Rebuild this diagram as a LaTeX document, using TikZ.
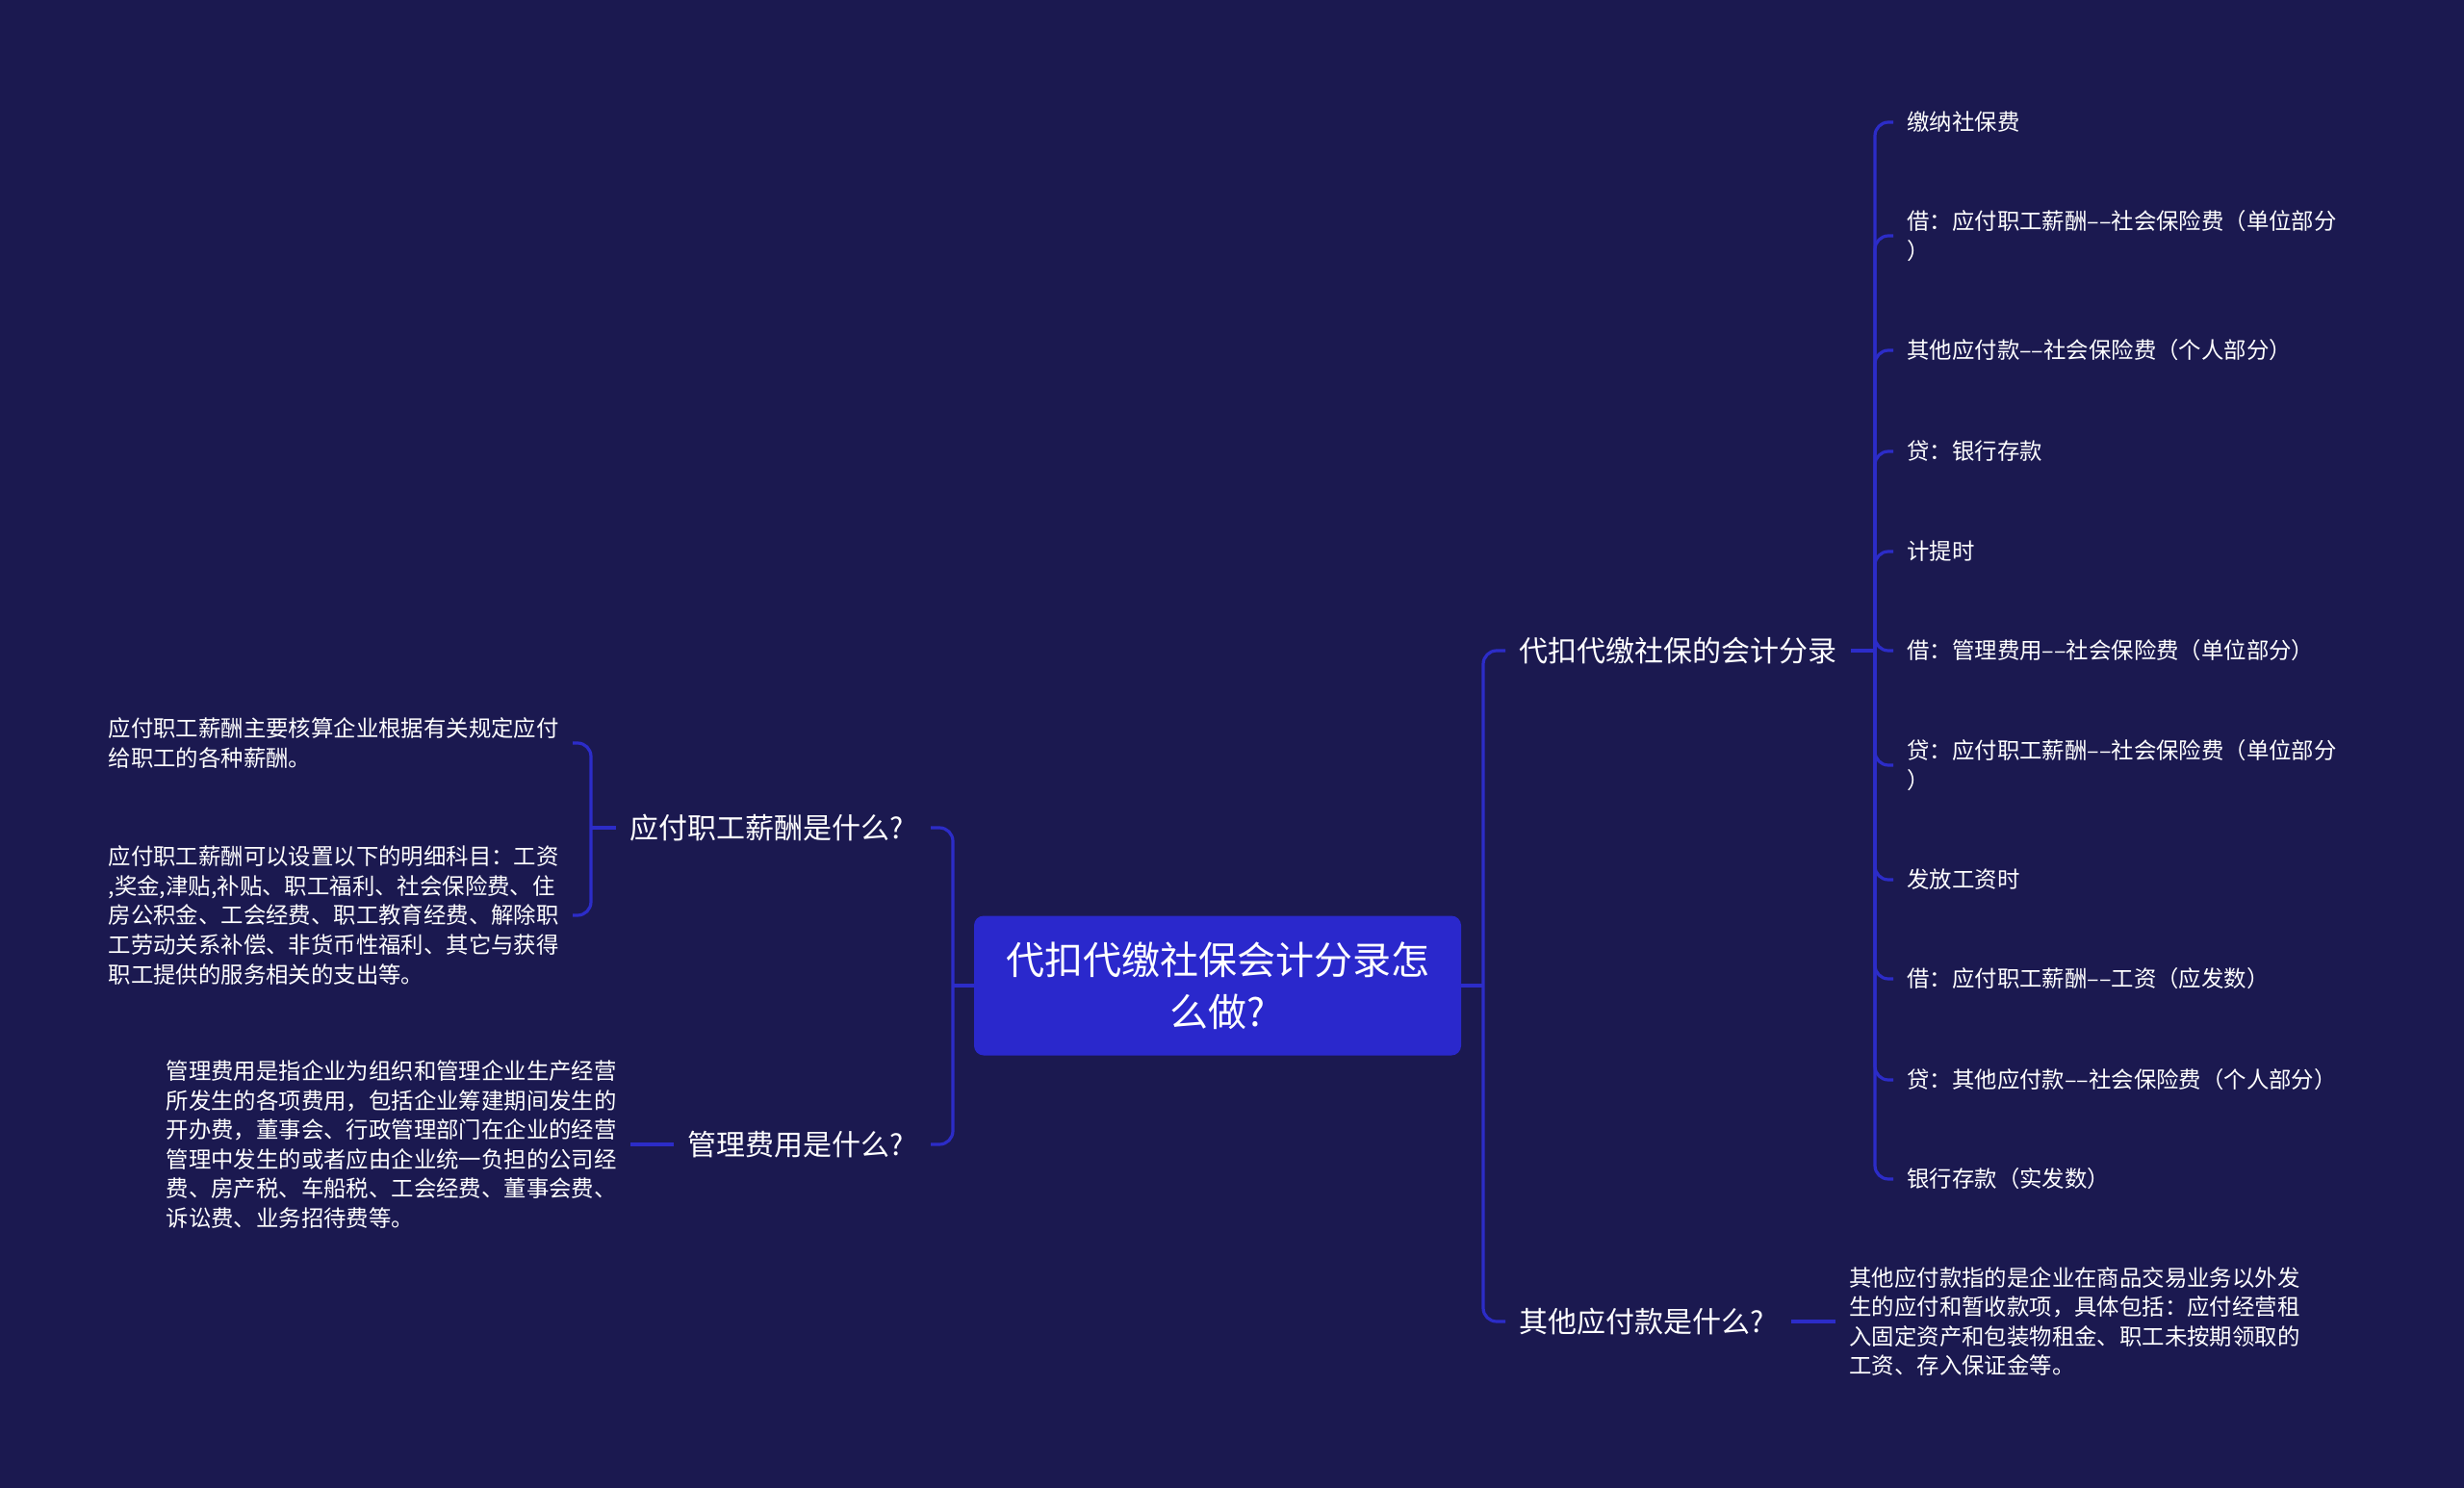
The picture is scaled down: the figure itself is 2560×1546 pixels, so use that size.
\documentclass[tikz,border=0pt]{standalone}
\usepackage{fontspec}
\setmainfont{Noto Sans CJK SC}
\usepackage{xcolor}
\definecolor{bgnavy}{RGB}{27,25,80}
\definecolor{linkblue}{RGB}{44,44,200}
\definecolor{rootblue}{RGB}{42,40,204}
\tikzset{
  link/.style={draw=linkblue,line width=1.6pt,rounded corners=7pt},
  root/.style={fill=rootblue,rounded corners=5pt,text=white,align=center,
    minimum width=253pt,minimum height=72.5pt,font=\fontsize{20}{27}\selectfont},
  branch/.style={text=white,inner xsep=7pt,font=\fontsize{15}{18}\selectfont},
  leaf/.style={text=white,align=left,inner xsep=7pt,inner ysep=2pt,
    font=\fontsize{11.7}{15.3}\selectfont},
}

\begin{document}
\begin{tikzpicture}[x=0.5pt,y=-0.5pt]
        \fill[bgnavy] (0,0) rectangle (2560,1546);
        % centre and main branches
        \node[root] (ctr) at (1265,1024) {代扣代缴社保会计分录怎\\么做?};
        \coordinate (lbus) at (990,1024);
        \coordinate (rmain) at (1541,1024);
        \node[branch,anchor=east] (l1) at (953,860) {应付职工薪酬是什么?};
        \node[branch,anchor=east] (l2) at (953,1189) {管理费用是什么?};
        \node[branch,anchor=west] (r1) at (1564,676) {代扣代缴社保的会计分录};
        \node[branch,anchor=west] (r2) at (1564,1373) {其他应付款是什么?};
        \draw[link] (ctr.west) -- (lbus);
        \draw[link] (lbus) |- ([xshift=7pt]l1.east);
        \draw[link] (lbus) |- ([xshift=7pt]l2.east);
        \draw[link] (ctr.east) -- (rmain);
        \draw[link] (rmain) |- (r1.west);
        \draw[link] (rmain) |- (r2.west);
        % left leaves
        \node[leaf,anchor=east] (l1a) at (595,772) {应付职工薪酬主要核算企业根据有关规定应付\\给职工的各种薪酬。};
        \node[leaf,anchor=east] (l1b) at (595,951) {应付职工薪酬可以设置以下的明细科目：工资\\,奖金,津贴,补贴、职工福利、社会保险费、住\\房公积金、工会经费、职工教育经费、解除职\\工劳动关系补偿、非货币性福利、其它与获得\\职工提供的服务相关的支出等。};
        \coordinate (l1bus) at (614,860);
        \draw[link] (l1.west) -- (l1bus);
        \draw[link] (l1bus) |- (l1a.east);
        \draw[link] (l1bus) |- (l1b.east);
        \node[leaf,anchor=east] (l2a) at (655,1189) {管理费用是指企业为组织和管理企业生产经营\\所发生的各项费用，包括企业筹建期间发生的\\开办费，董事会、行政管理部门在企业的经营\\管理中发生的或者应由企业统一负担的公司经\\费、房产税、车船税、工会经费、董事会费、\\诉讼费、业务招待费等。};
        \draw[link] (l2.west) -- (l2a.east);
        % right leaves
        \coordinate (rbus) at (1948,676);
        \draw[link] (r1.east) -- (rbus);
        \foreach \n/\y/\t in {
            a/127/{缴纳社保费},
            b/245/{借：应付职工薪酬––社会保险费（单位部分\\）},
            c/364/{其他应付款––社会保险费（个人部分）},
            d/469/{贷：银行存款},
            e/573/{计提时},
            f/676/{借：管理费用––社会保险费（单位部分）},
            g/795/{贷：应付职工薪酬––社会保险费（单位部分\\）},
            h/914/{发放工资时},
            i/1017/{借：应付职工薪酬––工资（应发数）},
            j/1122/{贷：其他应付款––社会保险费（个人部分）},
            k/1225/{银行存款（实发数）}}{
          \node[leaf,anchor=west] (r1\n) at (1967,\y) {\t};
          \draw[link] (rbus) |- (r1\n.west);
        }
        \node[leaf,anchor=west] (r2a) at (1907,1373) {其他应付款指的是企业在商品交易业务以外发\\生的应付和暂收款项，具体包括：应付经营租\\入固定资产和包装物租金、职工未按期领取的\\工资、存入保证金等。};
        \draw[link] ([xshift=7pt]r2.east) -- (r2a.west);
      \end{tikzpicture}
\end{document}
